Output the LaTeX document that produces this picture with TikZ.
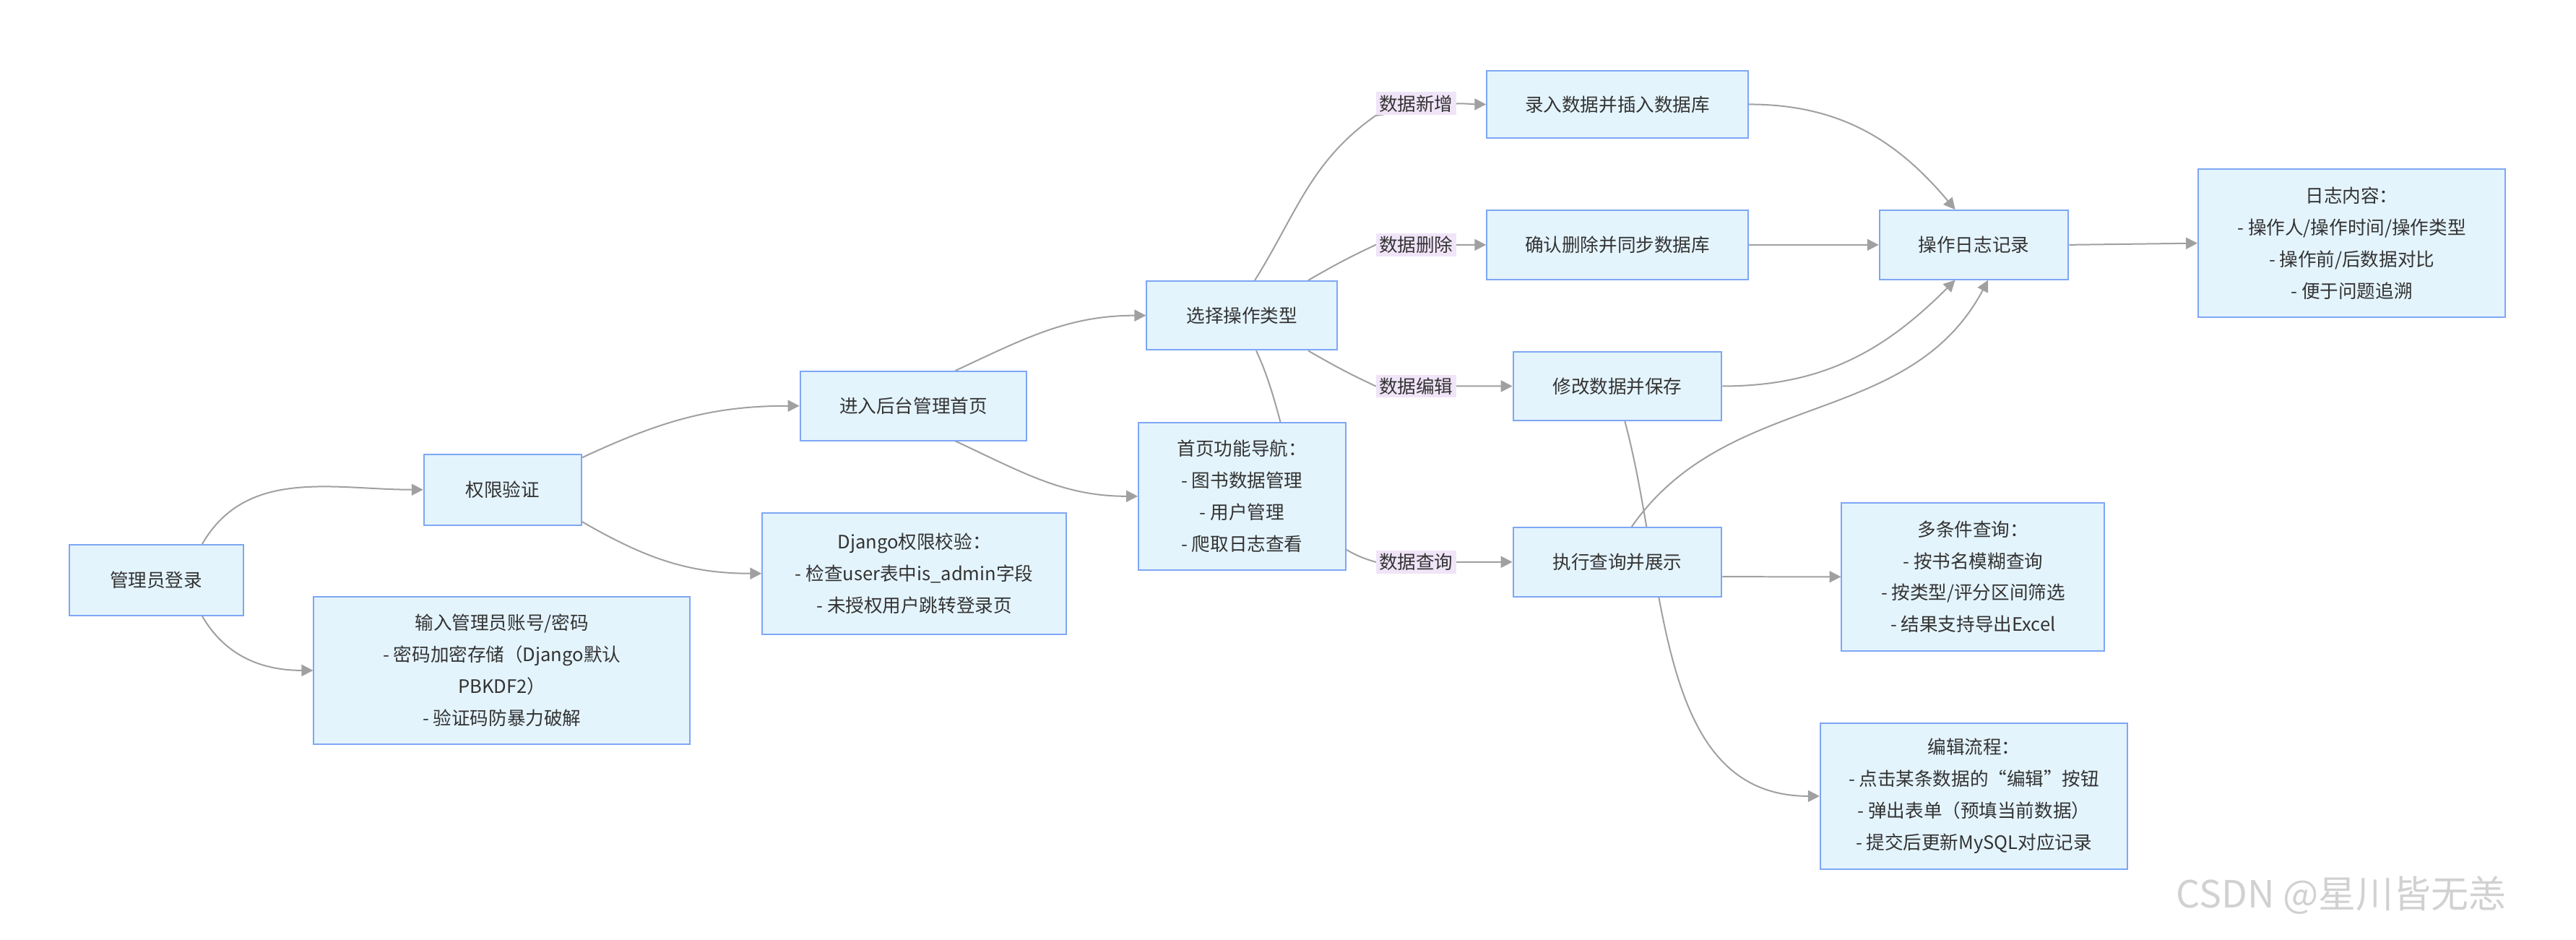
\documentclass[tikz,border=0pt]{standalone}
\usepackage{fontspec}
\newfontfamily\cjk{Noto Sans CJK SC}
\usetikzlibrary{positioning,backgrounds,arrows.meta}
\definecolor{boxfill}{RGB}{228,244,253}
\definecolor{boxline}{RGB}{126,166,245}
\definecolor{lblfill}{RGB}{240,228,248}
\definecolor{txt}{RGB}{51,51,51}
\definecolor{edgegray}{RGB}{160,160,160}
\begin{document}
\begin{tikzpicture}[x=0.02cm,y=-0.02cm,
  box/.style={draw=boxline,fill=boxfill,line width=0.5pt,align=center,
    font=\cjk\fontsize{6.4pt}{11pt}\selectfont,text=txt,inner sep=0pt},
  lbl/.style={fill=lblfill,inner sep=1pt,font=\cjk\fontsize{6.4pt}{8pt}\selectfont,text=txt},
  edge/.style={draw=edgegray,line width=0.5pt,-{Triangle[length=4pt,width=4pt]}}]
  \useasboundingbox (0,0) rectangle (1568,572);

  \node[box,minimum width=2.12cm,minimum height=0.86cm] (login) at (95,353) {管理员登录};
  \node[box,minimum width=1.92cm,minimum height=0.86cm] (auth) at (306,298) {权限验证};
  \node[box,minimum width=4.58cm,minimum height=1.8cm] (input) at (305.5,408)
    {输入管理员账号/密码\\- 密码加密存储（Django默认\\PBKDF2）\\- 验证码防暴力破解};
  \node[box,minimum width=2.76cm,minimum height=0.84cm] (enter) at (556,247) {进入后台管理首页};
  \node[box,minimum width=3.7cm,minimum height=1.48cm] (django) at (556.5,349)
    {Django权限校验：\\- 检查user表中is\_admin字段\\- 未授权用户跳转登录页};
  \node[box,minimum width=2.32cm,minimum height=0.84cm] (select) at (756,192) {选择操作类型};
  \node[box,minimum width=2.52cm,minimum height=1.8cm] (nav) at (756,302)
    {首页功能导航：\\- 图书数据管理\\- 用户管理\\- 爬取日志查看};
  \node[box,minimum width=3.18cm,minimum height=0.82cm] (add) at (984.5,63.5) {录入数据并插入数据库};
  \node[box,minimum width=3.18cm,minimum height=0.84cm] (del) at (984.5,149) {确认删除并同步数据库};
  \node[box,minimum width=2.54cm,minimum height=0.84cm] (edit) at (984.5,235) {修改数据并保存};
  \node[box,minimum width=2.54cm,minimum height=0.84cm] (query) at (984.5,342) {执行查询并展示};
  \node[box,minimum width=2.3cm,minimum height=0.84cm] (log) at (1201.5,149) {操作日志记录};
  \node[box,minimum width=3.74cm,minimum height=1.8cm] (content) at (1431.5,148)
    {日志内容：\\- 操作人/操作时间/操作类型\\- 操作前/后数据对比\\- 便于问题追溯};
  \node[box,minimum width=3.2cm,minimum height=1.8cm] (cond) at (1201,351)
    {多条件查询：\\- 按书名模糊查询\\- 按类型/评分区间筛选\\- 结果支持导出Excel};
  \node[box,minimum width=3.74cm,minimum height=1.78cm] (flow) at (1201.5,484.5)
    {编辑流程：\\- 点击某条数据的“编辑”按钮\\- 弹出表单（预填当前数据）\\- 提交后更新MySQL对应记录};

  \node[lbl] (ladd) at (862,63) {数据新增};
  \node[lbl] (ldel) at (862,149) {数据删除};
  \node[lbl] (ledit) at (862,235) {数据编辑};
  \node[lbl] (lquery) at (862,342) {数据查询};

  \node[font=\cjk\fontsize{13pt}{15pt}\selectfont,text=black!18] (mark) at (1425,545) {CSDN @星川皆无恙};

  \begin{pgfonlayer}{background}
  % left part
  \draw[edge] (login.38) to[out=60,in=180] (auth.west);
  \draw[edge] (login.-38) to[out=-60,in=180] (input.west);
  \draw[edge] (auth.22) to[out=25,in=180] (enter.west);
  \draw[edge] (auth.-22) to[out=-30,in=180] (django.west);
  \draw[edge] (enter.40) to[out=25,in=180] (select.west);
  \draw[edge] (enter.-40) to[out=-25,in=180] (nav.west);

  % operation branches
  \draw[edge] (select.70) to[out=58,in=215] (ladd.south west) -- (ladd.east) to[out=0,in=180] (add.west);
  \draw[edge] (select.28) to[out=30,in=205] (ldel.west) -- (ldel.east) to[out=0,in=180] (del.west);
  \draw[edge] (select.-28) to[out=-30,in=155] (ledit.west) -- (ledit.east) to[out=0,in=180] (edit.west);
  \draw[edge] (select.-68) to[out=-65,in=165] (lquery.west) -- (lquery.east) to[out=0,in=180] (query.west);

  % log and results
  \draw[edge] (add.east) to[out=0,in=130] (log.118);
  \draw[edge] (del.east) -- (log.west);
  \draw[edge] (edit.east) to[out=0,in=-135] (log.-118);
  \draw[edge] (query.68) to[out=55,in=-118] (log.-68);
  \draw[edge] (edit.-78) to[out=-75,in=180] (flow.west);
  \draw[edge] (query.-8) to[out=0,in=180] (cond.west);
  \draw[edge] (log.east) -- (content.west);
  \end{pgfonlayer}
\end{tikzpicture}
\end{document}
